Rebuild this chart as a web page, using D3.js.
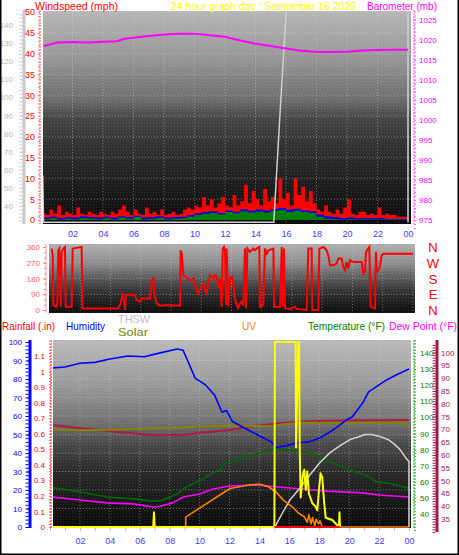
<!DOCTYPE html>
<html><head><meta charset="utf-8">
<script src="https://cdn.jsdelivr.net/npm/d3@7"></script>
<style>body{margin:0;background:#fff}svg{display:block}</style>
</head><body>
<svg id="c" width="459" height="555"></svg>
<script>
// ---------------- DATA ----------------
const hourTicks = [2,4,6,8,10,12,14,16,18,20,22,24];
const hourLabels = ['02','04','06','08','10','12','14','16','18','20','22','00'];

// top panel: wind (mph), quarter-hour steps from 00:00
const windGust = [1.5,1.2,2.5,1.5, 3.5,1.2,2.0,1.5, 1.2,3.0,1.5,1.2, 2.0,1.5,1.2,2.0,
  1.5,1.2,2.0,1.5, 2.5,3.5,2.0,1.2, 2.5,1.5,1.2,3.0, 1.5,2.0,1.2,2.5, 1.2,1.5,2.0,1.2,
  1.5,2.5,3.0,2.5, 3.5,3.0,5.5,3.5, 5.0,3.0,4.0,5.5, 3.5,3.0,6.0,3.5, 4.5,8.5,4.0,7.0,
  5.0,3.5,7.5,4.5, 5.5,4.0,10.0,5.0, 6.5,3.5,10.0,6.0, 8.0,4.5,7.0,4.0, 2.5,2.0,3.5,2.0,
  1.5,2.5,1.5,3.0, 5.0,1.5,1.2,2.0, 2.0,1.2,1.5,1.2, 3.0,1.2,1.5,1.2, 1.2,0.8,0.8,0.8, 0.8];
// half-hour steps from 00:00
const windAvg = [0.6,0.8,0.5,0.7,0.6,0.9,0.7,0.6,0.8,0.6,0.9,0.7,1.0,0.6,0.7,0.9,0.6,0.7,0.8,1.2,
  1.6,1.9,2.1,1.7,2.3,2.0,2.6,2.2,2.5,2.3,2.6,2.9,2.5,2.7,2.3,2.1,1.3,0.9,0.7,0.5,0.6,0.4,0.5,0.4,0.5,0.3,0.3,0.3,0.3];
const windLow = [0.2,0.4,0.1,0.3,0.2,0.5,0.3,0.2,0.4,0.2,0.6,0.3,0.7,0.2,0.3,0.5,0.2,0.3,0.4,0.8,
  1.2,1.5,1.7,1.3,1.9,1.6,2.1,1.8,2.0,1.8,2.2,2.4,2.0,2.2,1.9,1.7,0.7,0.3,0.2,0.1,0.2,0.1,0.1,0.1,0.1,0.1,0.1,0.1,0.1];

const baroT = [0.13,1,2,3,4,4.9,5.4,6,7,8,9,10,11,12,13,14,15,16,17,18,19,20,21,22,23,24];
const baroV = [1018.4,1019.3,1019.4,1019.3,1019.5,1019.6,1020.2,1020.5,1020.9,1021.3,1021.5,1021.5,1021.1,1020.7,1019.8,1019.0,1018.4,1017.8,1017.2,1016.9,1016.9,1017.0,1017.3,1017.4,1017.5,1017.5];

const topGrayT = [0.05,0.1,15.2,15.6,16.1,24,24];
const topGrayV = [57,31,31,90,160,160,31];

// middle panel: wind direction (degrees)
const dirT = [0.11,0.18,0.22,0.40,0.48,0.55,0.62,0.71,0.77,0.88,0.99,1.04,1.43,1.50,2.09,2.14,4.52,4.67,4.80,4.89,4.96,5.02,5.18,5.62,5.73,5.95,6.06,6.61,6.72,6.83,6.88,7.05,7.27,7.71,8.60,8.64,8.71,8.82,9.04,9.26,9.48,9.59,9.70,9.81,9.92,10.03,10.14,10.25,10.36,10.47,10.58,10.69,10.80,10.91,11.02,11.13,11.24,11.35,11.42,11.50,11.57,11.64,11.68,11.79,11.90,12.01,12.12,12.23,12.34,12.45,12.56,12.67,12.78,12.89,12.96,13.05,13.22,13.33,13.44,13.55,13.66,13.84,13.88,14.10,14.21,14.33,14.44,14.77,14.81,15.21,15.32,15.38,15.47,15.54,15.87,16.20,16.31,16.97,17.08,17.30,17.34,17.74,17.81,18.07,18.29,18.40,18.51,18.73,18.95,19.06,19.28,19.39,19.50,19.61,19.72,19.83,20.06,20.61,20.72,20.83,20.89,21.11,21.20,21.49,21.55,21.60,21.82,21.93,22.04,24.0];
const dirV = [351,313,28,19,38,341,351,19,332,351,360,19,19,351,360,9,9,38,85,57,0,85,89,85,57,47,66,66,171,180,95,38,25,28,25,341,322,199,180,171,180,142,114,95,123,133,152,114,95,161,199,190,180,199,190,123,180,19,351,360,341,28,351,19,180,190,152,66,28,13,38,47,25,351,9,351,332,341,351,341,351,360,19,28,351,322,341,351,19,19,360,19,351,9,6,19,6,0,351,351,0,0,351,360,341,313,256,256,265,294,294,246,227,275,237,284,275,275,208,218,332,360,19,9,332,218,246,313,322,322];

// bottom panel
const humT = [0.2,1,2,3,4,5.2,6.3,7.3,8.5,8.9,9.2,9.7,10.4,11,11.5,11.8,12.2,13,13.9,14.8,15.1,15.8,16.5,17.3,18,18.6,19.1,19.8,20.2,20.9,21.3,21.8,22.5,23.1,24];
const humV = [86,86.5,88.5,89,90.8,92.4,92,94,96.2,95.5,90,80.5,76.8,71.4,62,63,57,53.5,49.7,46,43,44,45.4,46,48,50.8,53.5,57.8,59.5,67,73,75.7,79.5,82,85.4];
const tempT = [0.13,2,3.8,5.55,6.9,7.55,8.5,9.15,10,10.9,11.4,11.6,12,13.3,14,15.3,16.6,17.3,18.6,20,21.3,21.8,22.7,24];
const tempV = [56.3,53.8,50.6,49.4,48,48.5,52.5,57,60.6,65.6,67.5,71.5,72.5,75.8,78,80.6,79,78,72.7,67.5,63.3,60,59,56];
const dewT = [0.13,2,3.8,5.55,6.9,7.35,8.2,8.9,10,10.9,12,13.9,15.3,16.8,18.6,20.9,22,24];
const dewV = [43.6,42.4,41.3,40.9,39.7,40,41.3,43.6,44.8,46.7,47.9,48.3,47.5,46.7,45.9,45.2,44.4,43.6];
const inTempT = [0.13,2.2,4.5,6.7,8.9,10,12,14.2,16.4,18,20,24];
const inTempV = [71.7,70.4,69.1,67.8,67.8,68.7,69.8,71.7,73,73.3,73.5,73.7];
const solarT = [0.2,2.2,4.5,6.7,8.9,10,12,14.8,16.4,20,23.5,24];
const solarV = [92.5,92,92.5,93.1,93.8,94.4,94.6,94.6,96.6,96.6,96.6,95.6];
const uvT = [9.07,9.07,12.03,13.3,14,14.6,15.1,15.6,16.2,16.6,17,17.2,17.3,17.45,17.55,17.7,17.8,17.95,18.05,18.2,24];
const uvV = [0,0.64,2.48,2.7,2.76,2.59,2.27,1.73,1.3,0.9,0.66,0.3,0.8,0.2,0.6,0.1,0.5,0.2,0.4,0,0];
const radT = [0,6.9,6.95,7.0,15.0,15.04,16.42,16.45,16.6,16.65,16.7,16.76,16.9,17.0,17.1,17.2,17.31,17.53,17.76,17.87,17.98,18.09,18.2,18.32,18.43,18.87,19.32,19.35,19.39];
const radV = [0,0,8,0,0,100,100,43,100,100,40,16,28,31,20,30,18,13,11,9,20,29,27,14,5,3.8,0,8,0];
const rainT = [15.0,19.39];
const rainV = [0,0];
const thswT = [0,15.04,15.5,16.04,16.7,17.38,18.05,18.72,19.4,20.05,20.6,21.06,21.5,22.06,22.6,23.06,23.4,23.73,24,24];
const thswV = [32,32,40,48.75,56,64.4,72,78.1,82.5,86.25,87.8,89.4,89.4,88.1,86.3,83.1,80,75.6,72.5,32];

const grayTicks = [40,50,60,70,80,90,100,110,120,130,140];
const windTicks = [0,5,10,15,20,25,30,35,40,45,50];
const baroTicks = [975,980,985,990,995,1000,1005,1010,1015,1020,1025];
const dirTicks = [0,90,180,270,360];
const compass = ['N','E','S','W','N'];
const humTicks = [0,10,20,30,40,50,60,70,80,90,100];
const rainTicks = [0,0.1,0.2,0.3,0.4,0.5,0.6,0.7,0.8,0.9,1,1.1];
const tempTicks = [40,50,60,70,80,90,100,110,120,130,140];
const dewTicks = [35,40,45,50,55,60,65,70,75,80,85,90,95,100];

// ---------------- DRAWING ----------------
const FONT = "'Liberation Sans', Arial, sans-serif";
const svg = d3.select('#c');
svg.append('rect').attr('width',459).attr('height',555).attr('fill','#fff');
const defs = svg.append('defs');
function grad(id, stops){
  const g = defs.append('linearGradient').attr('id',id).attr('x1',0).attr('y1',0).attr('x2',0).attr('y2',1);
  stops.forEach(s=>g.append('stop').attr('offset',s[0]).attr('stop-color',s[1]));
}
grad('gTop',[[0,'#b6b6b6'],[0.22,'#979797'],[0.42,'#6c6c6c'],[0.5,'#474747'],[0.65,'#2f2f2f'],[0.82,'#1c1c1c'],[1,'#0a0a0a']]);
grad('gMid',[[0,'#b0b0b0'],[0.3,'#8a8a8a'],[0.5,'#5a5a5a'],[0.7,'#303030'],[1,'#0c0c0c']]);
grad('gBot',[[0,'#bababa'],[0.25,'#989898'],[0.45,'#6e6e6e'],[0.55,'#4a4a4a'],[0.7,'#2a2a2a'],[0.85,'#181818'],[1,'#0a0a0a']]);
const dots = defs.append('pattern').attr('id','dots').attr('width',3).attr('height',3).attr('patternUnits','userSpaceOnUse');
dots.append('rect').attr('width',1).attr('height',1).attr('fill','rgba(255,255,255,0.10)');

function panel(id, x0, y0, x1, y1, gradId){
  defs.append('clipPath').attr('id',id).append('rect').attr('x',x0).attr('y',y0).attr('width',x1-x0).attr('height',y1-y0);
  svg.append('rect').attr('x',x0).attr('y',y0).attr('width',x1-x0).attr('height',y1-y0).attr('fill',`url(#${gradId})`);
  svg.append('rect').attr('x',x0).attr('y',y0).attr('width',x1-x0).attr('height',y1-y0).attr('fill','url(#dots)');
  return svg.append('g').attr('clip-path',`url(#${id})`);
}
function grid(g, xs, ys, x0, y0, x1, y1){
  g.selectAll(null).data(xs).join('line').attr('x1',d=>d).attr('x2',d=>d).attr('y1',y0).attr('y2',y1)
    .attr('stroke','rgba(215,215,215,0.45)').attr('stroke-dasharray','1,2');
  g.selectAll(null).data(ys).join('line').attr('y1',d=>d).attr('y2',d=>d).attr('x1',x0).attr('x2',x1)
    .attr('stroke','rgba(215,215,215,0.45)').attr('stroke-dasharray','1,2');
}
function yAxis(orient, scale, x, y0, y1, o){
  svg.append('line').attr('x1',x).attr('x2',x).attr('y1',y0).attr('y2',y1)
    .attr('stroke',o.line).attr('stroke-width',o.lw||1).attr('stroke-dasharray',o.dash||null);
  if(o.minor){
    const m = (orient==='left'?d3.axisLeft:d3.axisRight)(scale).tickValues(o.minor).tickSize(o.minorSize||2).tickSizeOuter(0).tickFormat('');
    const gm = svg.append('g').attr('transform',`translate(${x + (o.minorShift||0)},0)`).call(m);
    gm.select('.domain').remove();
    gm.selectAll('.tick line').attr('stroke',o.tickColor||o.line);
  }
  const a = (orient==='left'?d3.axisLeft:d3.axisRight)(scale).tickValues(o.ticks).tickSize(o.size||3).tickSizeOuter(0)
    .tickPadding(o.pad||2).tickFormat(o.fmt||(d=>d));
  const g = svg.append('g').attr('transform',`translate(${x + (o.majorShift||0)},0)`).call(a);
  g.select('.domain').remove();
  g.selectAll('.tick line').attr('stroke',o.tickColor||o.line);
  g.selectAll('.tick text').attr('fill',o.color).attr('font-size',o.fs||8).attr('font-family',FONT);
  return g;
}
function label(txt, x, y, color, len, fs){
  svg.append('text').attr('x',x).attr('y',y).attr('fill',color).attr('font-family',FONT)
    .attr('font-size',fs).attr('textLength',len).attr('lengthAdjust','spacingAndGlyphs').text(txt);
}

// ===== TOP PANEL =====
const TX0=43, TX1=411, TY0=11, TY1=224;
const xTop = d3.scaleLinear([0,24],[42,408]);
const yWind = d3.scaleLinear([0,50],[220,12]);
const yBaro = d3.scaleLinear([975,1025],[220,19.6]);
const yGray = d3.scaleLinear([40,140],[206,25]);
const gTop = panel('cTop',TX0,TY0,TX1,TY1,'gTop');
grid(gTop, hourTicks.map(xTop), windTicks.slice(1).map(yWind), TX0,TY0,TX1,TY1);

const qT = i => i*0.25, hT = i => i*0.5;
gTop.append('path').attr('fill','#ff0000')
  .attr('d', d3.area().curve(d3.curveStepAfter).x((d,i)=>xTop(qT(i))).y0(yWind(0)).y1(d=>yWind(d))(windGust));
gTop.append('path').attr('fill','#0000e6')
  .attr('d', d3.area().curve(d3.curveStepAfter).x((d,i)=>xTop(hT(i))).y0(yWind(0)).y1(d=>yWind(d))(windAvg));
gTop.append('path').attr('fill','#008000')
  .attr('d', d3.area().curve(d3.curveStepAfter).x((d,i)=>xTop(hT(i))).y0(yWind(0)).y1(d=>yWind(d))(windLow));
gTop.append('path').attr('fill','none').attr('stroke','#cfcfcf').attr('stroke-width',1.5)
  .attr('d', d3.line().x((d,i)=>xTop(topGrayT[i])).y(d=>yGray(d))(topGrayV));
gTop.append('path').attr('fill','none').attr('stroke','#ff00ff').attr('stroke-width',2)
  .attr('d', d3.line().x((d,i)=>xTop(baroT[i])).y(d=>yBaro(d))(baroV));

yAxis('left', yGray, 24, 10, 224, {ticks:grayTicks, minor:d3.range(32,148,2), line:'#c8c8c8', lw:3, color:'#b8b8b8', size:0, pad:8, minorSize:3, minorShift:-1.5, tickColor:'#c8c8c8'});
yAxis('left', yWind, 40, 10, 224, {ticks:windTicks, minor:d3.range(0,51,1), line:'#ff8080', lw:1.5, dash:'2,1', color:'#ff0000', size:2, pad:3, fs:9, minorSize:2, tickColor:'#ff8080'});
yAxis('right', yBaro, 414, 10, 224, {ticks:baroTicks, minor:d3.range(973,1028,1), line:'#ff80ff', lw:1.5, dash:'2,1', color:'#ff00ff', size:2, pad:3, fs:8, minorSize:2, tickColor:'#ff60ff'});

const axTop = svg.append('g').attr('transform',`translate(0,${TY1})`)
  .call(d3.axisBottom(xTop).tickValues(hourTicks).tickSize(0).tickPadding(7).tickFormat((d,i)=>hourLabels[i]));
axTop.select('.domain').remove();
axTop.selectAll('text').attr('fill','#3c3cff').attr('font-size',9).attr('font-family',FONT);

label('Windspeed (mph)', 35, 10, '#ff0000', 83, 10);
label('24 hour graph day : September 16 2026', 171, 10, '#ffff00', 185, 10.4);
label('Barometer (mb)', 367, 10, '#ff00ff', 70, 10);

// ===== MIDDLE PANEL =====
const MX0=49, MX1=415, MY0=244, MY1=313;
const xMid = d3.scaleLinear([0,24],[50,413]);
const yDir = d3.scaleLinear([0,360],[310,247]);
const gMid = panel('cMid',MX0,MY0,MX1,MY1,'gMid');
grid(gMid, hourTicks.map(xMid), [90,180,270].map(yDir), MX0,MY0,MX1,MY1);
gMid.append('path').attr('fill','none').attr('stroke','#ff0000').attr('stroke-width',2)
  .attr('d', d3.line().x((d,i)=>xMid(dirT[i])).y(d=>yDir(d))(dirV));
yAxis('left', yDir, 46, 244, 313, {ticks:dirTicks, minor:d3.range(0,361,30), line:'#ffa0a0', lw:0, color:'#ff6060', size:3, pad:3, fs:8, minorSize:2, tickColor:'#ff8080'});
svg.append('g').selectAll('text').data(compass).join('text')
  .attr('x',433).attr('y',(d,i)=>yDir(dirTicks[i])+5).attr('text-anchor','middle')
  .attr('fill','#ff0000').attr('font-family',FONT).attr('font-size',13).text(d=>d);

// ===== BOTTOM PANEL =====
const BX0=53, BX1=411, BY0=340, BY1=528;
const xBot = d3.scaleLinear([0,24],[50,409]);
const yHum = d3.scaleLinear([0,100],[527,342]);
const yRain = d3.scaleLinear([0,1.2],[527,340.6]);
const yTemp = d3.scaleLinear([40,140],[514,353]);
const yDew = d3.scaleLinear([35,100],[519,352.6]);
const yUV = d3.scaleLinear([0,12],[527,340.6]);
const yRad = d3.scaleLinear([0,100],[527,342]);
const gBot = panel('cBot',BX0,BY0,BX1,BY1,'gBot');
grid(gBot, hourTicks.map(xBot), humTicks.slice(1,-1).map(yHum), BX0,BY0,BX1,BY1);

function ln(g, T, V, xs, ys, color, w){
  g.append('path').attr('fill','none').attr('stroke',color).attr('stroke-width',w).attr('stroke-linejoin','round')
    .attr('d', d3.line().x((d,i)=>xs(T[i])).y(d=>ys(d))(V));
}
ln(gBot, inTempT, inTempV, xBot, yDew, '#b01848', 2);
ln(gBot, solarT, solarV, xBot, yTemp, '#858500', 2);
ln(gBot, tempT, tempV, xBot, yTemp, '#006a00', 1.6);
ln(gBot, dewT, dewV, xBot, yDew, '#ff00ff', 1.6);
ln(gBot, thswT, thswV, xBot, yTemp, '#d2d2d2', 1.5);
ln(gBot, humT, humV, xBot, yHum, '#0000ff', 1.6);
ln(gBot, uvT, uvV, xBot, yUV, '#ff8000', 1.6);
ln(gBot, radT, radV, xBot, yRad, '#ffff00', 2);
ln(gBot, rainT, rainV, xBot, yRain, '#ff0000', 2);

yAxis('left', yHum, 30, 340, 528, {ticks:humTicks, minor:d3.range(0,101,2), line:'#0000ff', lw:3, color:'#0000ff', size:0, pad:5, fs:8, minorSize:3, minorShift:-1.5, tickColor:'#0000ff'});
yAxis('left', yRain, 51, 340, 528, {ticks:rainTicks, minor:d3.range(0,1.21,0.02), line:'#ff6060', lw:1.5, dash:'2,1', color:'#ff0000', size:2, pad:4, fs:8, minorSize:2, fmt:d=>d3.format('~g')(d), tickColor:'#ff6060'});
yAxis('right', yTemp, 414, 340, 528, {ticks:tempTicks, minor:d3.range(30,150,2), line:'#60c060', lw:1.5, dash:'2,1', color:'#008000', size:2, pad:4, fs:8, minorSize:2, tickColor:'#40b040'});
yAxis('left', yDew, 437, 340, 532, {ticks:dewTicks, minor:d3.range(30,104,1), line:'#a01848', lw:3, color:'#a01848', size:0, pad:0, fs:8, minorSize:3, minorShift:-1.5, tickColor:'#a01848'})
  .selectAll('.tick text').attr('text-anchor','start').attr('x',4);

const axBot = svg.append('g').attr('transform',`translate(0,${BY1})`)
  .call(d3.axisBottom(xBot).tickValues(hourTicks).tickSize(0).tickPadding(10).tickFormat((d,i)=>hourLabels[i]));
axBot.select('.domain').remove();
axBot.selectAll('text').attr('fill','#3c3cff').attr('font-size',9).attr('font-family',FONT);
const axBotMinor = svg.append('g').attr('transform',`translate(0,${BY1})`)
  .call(d3.axisBottom(xBot).tickValues(d3.range(0,25,1)).tickSize(3).tickFormat(''));
axBotMinor.select('.domain').remove();
axBotMinor.selectAll('line').attr('stroke','#c0c0c0');

label('Rainfall (.in)', 2, 330, '#ff0000', 53, 10.2);
label('Humidity', 66, 330, '#0000ff', 39, 10.2);
label('THSW', 118, 323, '#c0c0c0', 32, 10.8);
label('Solar', 118, 336, '#808000', 30, 11);
label('UV', 242, 330, '#ff8000', 14, 10.2);
label('Temperature (°F)', 308, 330, '#008000', 77, 10);
label('Dew Point (°F)', 389, 330, '#ff00ff', 68, 10.4);

// outer frame
svg.append('path').attr('fill','none').attr('stroke','#000').attr('stroke-width',1.5)
  .attr('d','M0.75,0 V554.25 H458.25 V0');
</script>
</body></html>
